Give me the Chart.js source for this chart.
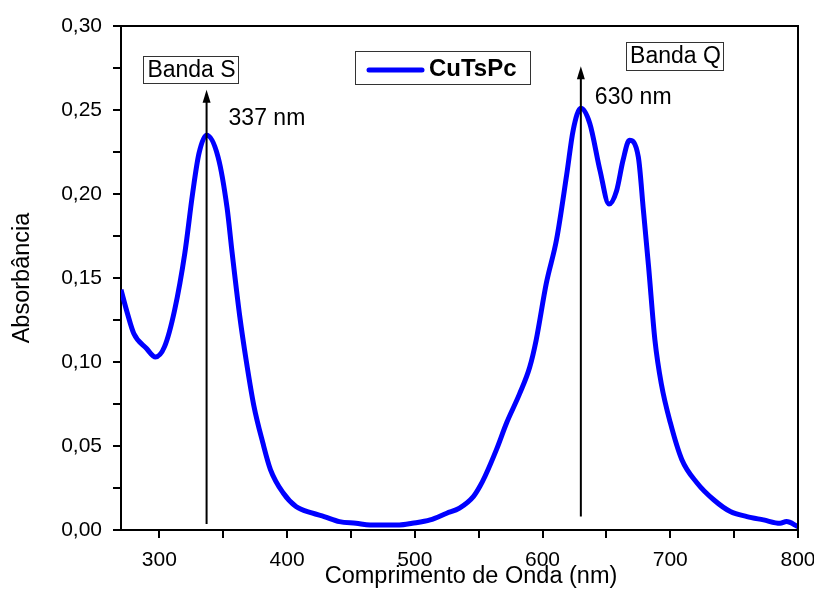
<!DOCTYPE html>
<html>
<head>
<meta charset="utf-8">
<script src="https://cdn.jsdelivr.net/npm/chart.js@4/dist/chart.umd.min.js"></script>
<style>
  html, body { margin: 0; padding: 0; background: #fff; }
  #wrap { width: 814px; height: 589px; }
</style>
</head>
<body>
<div id="wrap"><canvas id="spectrum"></canvas></div>
<script>
// Espectro UV-Vis da CuTsPc
const wavelength = [270, 275, 280, 290, 297, 304, 312, 320, 326, 331, 337, 346, 353, 357, 363, 368, 374, 381, 387, 397,
    407, 420, 429, 441, 454, 465, 488, 498, 512, 525, 535, 546, 551, 555, 564, 572, 582, 590, 595, 603,
    611, 619, 624, 630, 637, 645, 652, 658, 663, 668, 675, 679, 683, 688, 693, 700, 709, 721, 734, 747,
    760, 773, 786, 791, 800];
const absorbance = [0.143, 0.129, 0.117, 0.108, 0.103, 0.109, 0.131, 0.165, 0.200, 0.224, 0.235, 0.222, 0.192, 0.165, 0.127, 0.101, 0.074, 0.052, 0.036, 0.022,
    0.014, 0.010, 0.008, 0.005, 0.004, 0.003, 0.003, 0.004, 0.006, 0.010, 0.013, 0.020, 0.026, 0.032, 0.048, 0.064, 0.081, 0.097, 0.113, 0.147,
    0.173, 0.212, 0.238, 0.251, 0.242, 0.214, 0.194, 0.202, 0.220, 0.232, 0.222, 0.190, 0.157, 0.113, 0.087, 0.064, 0.042, 0.028, 0.018, 0.011,
    0.008, 0.006, 0.004, 0.005, 0.002];

const seriesName = 'CuTsPc';
const xTicks = [300, 350, 400, 450, 500, 550, 600, 650, 700, 750, 800];
const yTicks = [0, 0.025, 0.05, 0.075, 0.10, 0.125, 0.15, 0.175, 0.20, 0.225, 0.25, 0.275, 0.30];

// bandas marcadas: comprimento de onda, inicio e fim da seta
const bandNames = ['Banda S', 'Banda Q'];
const bandPeaks = [337, 630];
const arrowFrom = [0.0036, 0.008];
const arrowTo = [0.262, 0.276];

const FONT = '"Liberation Sans", Arial, sans-serif';

const extras = {
    id: 'extras',
    afterDraw(chart) {
        const ctx = chart.ctx;
        const area = chart.chartArea;
        const xs = chart.scales.x, ys = chart.scales.y;
        ctx.save();

        // moldura superior e direita
        ctx.strokeStyle = '#000';
        ctx.lineWidth = 2;
        ctx.beginPath();
        ctx.moveTo(area.left, area.top);
        ctx.lineTo(area.right, area.top);
        ctx.lineTo(area.right, area.bottom);
        ctx.stroke();

        // setas nos picos
        bandPeaks.forEach((nm, i) => {
            const x = xs.getPixelForValue(nm);
            const y0 = ys.getPixelForValue(arrowFrom[i]);
            const y1 = ys.getPixelForValue(arrowTo[i]);
            ctx.beginPath();
            ctx.moveTo(x, y0);
            ctx.lineTo(x, y1 + 8);
            ctx.stroke();
            ctx.beginPath();
            ctx.moveTo(x, y1);
            ctx.lineTo(x - 4, y1 + 13);
            ctx.lineTo(x + 4, y1 + 13);
            ctx.closePath();
            ctx.fillStyle = '#000';
            ctx.fill();
        });

        // rotulos dos picos
        ctx.fillStyle = '#000';
        ctx.font = '23px ' + FONT;
        ctx.textBaseline = 'alphabetic';
        ctx.textAlign = 'left';
        ctx.fillText(bandPeaks[0] + ' nm', xs.getPixelForValue(bandPeaks[0]) + 22, 125);
        ctx.fillText(bandPeaks[1] + ' nm', xs.getPixelForValue(bandPeaks[1]) + 14, 104);

        // caixas das bandas
        const boxes = [[143, 56, 95, 27], [626, 42, 97, 28]];
        ctx.lineWidth = 1;
        ctx.strokeStyle = '#333';
        ctx.font = '23px ' + FONT;
        boxes.forEach((b, i) => {
            ctx.strokeRect(b[0] + 0.5, b[1] + 0.5, b[2], b[3]);
            ctx.textAlign = 'center';
            ctx.textBaseline = 'middle';
            ctx.fillText(bandNames[i], b[0] + b[2] / 2 + 1, b[1] + b[3] / 2 + 1);
        });

        // legenda
        const ds = chart.data.datasets[0];
        ctx.strokeRect(355.5, 51.5, 175, 33);
        ctx.strokeStyle = ds.borderColor;
        ctx.lineWidth = 5;
        ctx.lineCap = 'round';
        ctx.beginPath();
        ctx.moveTo(369, 70);
        ctx.lineTo(422, 70);
        ctx.stroke();
        ctx.font = 'bold 24px ' + FONT;
        ctx.textAlign = 'left';
        ctx.fillText(ds.label, 429, 69);

        // titulos dos eixos
        ctx.font = '23.5px ' + FONT;
        ctx.textAlign = 'center';
        ctx.fillText('Comprimento de Onda (nm)', 471, 577);
        ctx.translate(23, 278);
        ctx.rotate(-Math.PI / 2);
        ctx.fillText('Absorbância', 0, 0);
        ctx.restore();
    }
};

new Chart(document.getElementById('spectrum').getContext('2d'), {
    type: 'line',
    data: {
        datasets: [{
            label: seriesName,
            data: wavelength.map((w, i) => ({ x: w, y: absorbance[i] })),
            borderColor: '#0000FF',
            borderWidth: 5,
            pointRadius: 0,
            fill: false,
            cubicInterpolationMode: 'monotone'
        }]
    },
    options: {
        responsive: true,
        maintainAspectRatio: false,
        animation: false,
        layout: { padding: { top: 26, right: 16, left: 0, bottom: 0 } },
        plugins: {
            legend: { display: false },
            tooltip: { enabled: false }
        },
        scales: {
            x: {
                type: 'linear',
                min: 270,
                max: 800,
                afterBuildTicks: s => { s.ticks = xTicks.map(v => ({ value: v })); },
                afterFit: s => { s.height = 59; s.paddingLeft = 0; s.paddingRight = 0; },
                ticks: {
                    autoSkip: false,
                    maxRotation: 0,
                    padding: 10,
                    color: '#000',
                    font: { family: FONT, size: 21 },
                    callback: v => (v % 100 === 0 ? String(v) : '')
                },
                grid: { drawOnChartArea: false, tickLength: 8, color: '#000', lineWidth: 2 },
                border: { color: '#000', width: 2 }
            },
            y: {
                min: 0,
                max: 0.3,
                afterBuildTicks: s => { s.ticks = yTicks.map(v => ({ value: v })); },
                afterFit: s => { s.width = 121; s.paddingTop = 0; s.paddingBottom = 0; },
                ticks: {
                    autoSkip: false,
                    padding: 11,
                    color: '#000',
                    font: { family: FONT, size: 21 },
                    callback: v => (Math.round(v * 1000) % 50 === 0 ? v.toFixed(2).replace('.', ',') : '')
                },
                grid: { drawOnChartArea: false, tickLength: 8, color: '#000', lineWidth: 2 },
                border: { color: '#000', width: 2 }
            }
        }
    },
    plugins: [extras]
});
</script>
</body>
</html>
